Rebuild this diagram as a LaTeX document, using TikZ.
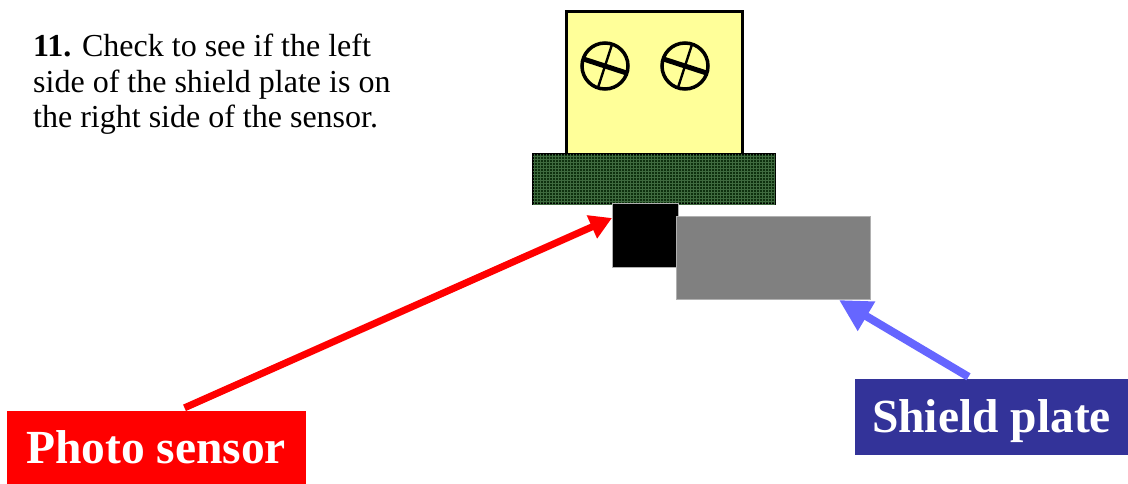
\documentclass[tikz,border=0pt]{standalone}
\usepackage{fontspec}
\setmainfont{Liberation Serif}
\usetikzlibrary{arrows.meta,calc,patterns}

\definecolor{padyellow}{HTML}{FFFF99}
\definecolor{boardgreen}{HTML}{0E300E}
\definecolor{gridgreen}{HTML}{3F6A3F}
\definecolor{plategray}{HTML}{808080}
\definecolor{edgegray}{HTML}{B0B0B0}
\definecolor{labelblue}{HTML}{333399}
\definecolor{arrowblue}{HTML}{6666FF}

% fine mesh used for the circuit board texture
\pgfdeclarepatternformonly{boardmesh}{\pgfqpoint{-0.5pt}{-0.5pt}}{\pgfqpoint{3.5pt}{3.5pt}}{\pgfqpoint{3pt}{3pt}}{
  \pgfsetlinewidth{0.5pt}
  \pgfpathmoveto{\pgfqpoint{0pt}{0pt}}\pgfpathlineto{\pgfqpoint{3pt}{0pt}}
  \pgfpathmoveto{\pgfqpoint{0pt}{0pt}}\pgfpathlineto{\pgfqpoint{0pt}{3pt}}
  \pgfusepath{stroke}}

\begin{document}
\begin{tikzpicture}[x=1pt,y=-1pt,
  part/.style={rectangle, inner sep=0pt, anchor=north west},
  tag/.style={rectangle, inner sep=0pt, anchor=base, text=white,
    font=\fontsize{47.5}{50}\selectfont\bfseries},
  screwhead/.style={line width=3.5pt},
]
\useasboundingbox (0,0) rectangle (1128,483);

% sensor holder with its two screws
\node[part, draw, line width=3pt, fill=padyellow, minimum width=176pt, minimum height=148pt] (holder) at (565,10) {};
\foreach \cx in {605,685} {
  \draw[screwhead] (\cx,66) circle[radius=23pt];
  \draw[line width=5pt] ({\cx-22.8},58.6) -- ({\cx+22.8},73.4);
  \draw[line width=2.4pt] ({\cx+7.4},43.2) -- ({\cx-7.4},88.8);
}

% circuit board
\node[part, draw, line width=2pt, fill=boardgreen,
  postaction={pattern=boardmesh, pattern color=gridgreen},
  minimum width=242pt, minimum height=50pt] (board) at (532,153) {};

% photo sensor and shield plate
\node[part, draw=edgegray, line width=1pt, fill=black, minimum width=66pt, minimum height=64pt] (sensor) at (612,203) {};
\node[part, draw=edgegray, line width=1pt, fill=plategray, minimum width=194pt, minimum height=83pt] (plate) at (676,216) {};

% instruction text
\node[anchor=north west, inner sep=0pt, align=left, font=\fontsize{32}{35.5}\selectfont] (note) at (33,34)
  {\textbf{11.} Check to see if the left\\side of the shield plate is on\\the right side of the sensor.};

% labels
\node[tag, fill=red, minimum width=299pt, text height=52pt, text depth=27pt] (photo) at (156,463) {Photo sensor};
\node[tag, fill=labelblue, minimum width=273pt, text height=53pt, text depth=23pt] (shield) at (991.5,432) {Shield plate};

% pointers
\draw[red, line width=7pt, -{Triangle[length=22pt,width=24pt]}]
  ($(photo.north)+(28.5,-3)$) -- ($(sensor.north west)+(0,15)$);
\draw[arrowblue, line width=8pt, -{Triangle[length=32pt,width=32pt]}]
  ($(shield.north)+(-23,-2)$) -- ($(plate.south east)+(-32,0)$);
\end{tikzpicture}
\end{document}
